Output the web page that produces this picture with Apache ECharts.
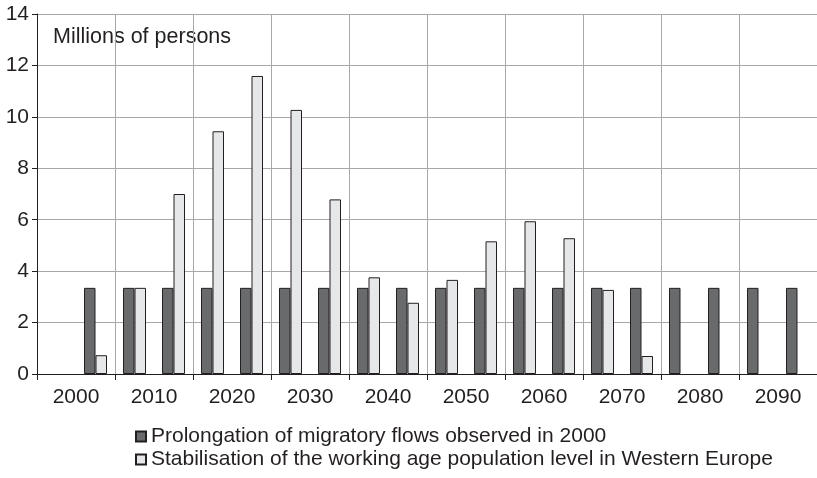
<!DOCTYPE html>
<html>
<head>
<meta charset="utf-8">
<script src="https://cdn.jsdelivr.net/npm/echarts@6/dist/echarts.min.js"></script>
<style>html,body{margin:0;padding:0;background:#fff}#c{width:817px;height:478px}</style>
</head>
<body>
<div id="c"></div>
<script>
// Decade labels shown on the axis
const decadeLabels = ['2000','2010','2020','2030','2040','2050','2060','2070','2080','2090'];
// Half-decade categories used for bars
const categories = ['2000','2005','2010','2015','2020','2025','2030','2035','2040','2045','2050','2055','2060','2065','2070','2075','2080','2085','2090','2095'];
// Series names
const seriesNames = ['Prolongation of migratory flows observed in 2000','Stabilisation of the working age population level in Western Europe'];
// Series values (millions of persons)
const prolongation = [null,3.35,3.35,3.35,3.35,3.35,3.35,3.35,3.35,3.35,3.35,3.35,3.35,3.35,3.35,3.35,3.35,3.35,3.35,3.35];
const stabilisation = [null,0.73,3.35,7.0,9.44,11.59,10.27,6.79,3.76,2.77,3.66,5.16,5.94,5.28,3.27,0.70,null,null,null,null];
const yTicks = {min:0, max:14, interval:2};

const font = '"Liberation Sans", Arial, sans-serif';
const chart = echarts.init(document.getElementById('c'), null, {renderer:'canvas'});
const legendBase = {left:135, padding:0, itemWidth:10, itemHeight:10, icon:'rect',
  textStyle:{fontSize:21, color:'#231f20', fontFamily:font}};
chart.setOption({
  animation:false,
  backgroundColor:'#fff',
  textStyle:{fontFamily:font},
  graphic:[{type:'text', left:53, top:26, style:{text:'Millions of persons', font:'21.5px '+font, fill:'#231f20'}}],
  grid:{left:37, top:14, width:783, height:360, containLabel:false},
  legend:[
    Object.assign({}, legendBase, {top:426, data:[seriesNames[0]]}),
    Object.assign({}, legendBase, {top:449, data:[seriesNames[1]]})
  ],
  xAxis:[{
    type:'category', data:decadeLabels, boundaryGap:true,
    axisLine:{lineStyle:{color:'#231f20', width:1}},
    axisTick:{show:true, length:6, lineStyle:{color:'#231f20'}},
    axisLabel:{fontSize:21, color:'#231f20', margin:13, fontFamily:font},
    splitLine:{show:true, lineStyle:{color:'#a8a8a8', width:1}}
  },{
    type:'category', data:categories, show:false, boundaryGap:true
  }],
  yAxis:{
    type:'value', min:yTicks.min, max:yTicks.max, interval:yTicks.interval,
    axisLine:{show:true, lineStyle:{color:'#231f20'}},
    axisTick:{show:true, length:5, lineStyle:{color:'#231f20'}},
    axisLabel:{fontSize:21, color:'#231f20', margin:8, fontFamily:font},
    splitLine:{show:true, lineStyle:{color:'#a8a8a8', width:1}}
  },
  series:[{
    name:seriesNames[0], type:'bar', xAxisIndex:1,
    data:prolongation, barWidth:11.5, barGap:'0%',
    itemStyle:{color:'#696a6c', borderColor:'#231f20', borderWidth:1}
  },{
    name:seriesNames[1], type:'bar', xAxisIndex:1,
    data:stabilisation, barWidth:11.5, barGap:'0%',
    itemStyle:{color:'#e6e7e8', borderColor:'#231f20', borderWidth:1}
  }]
});
</script>
</body>
</html>
